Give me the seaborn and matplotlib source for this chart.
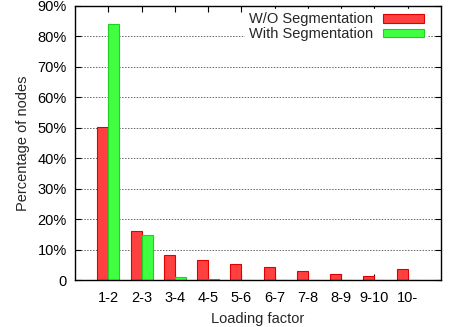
import matplotlib
matplotlib.use("Agg")
import matplotlib.pyplot as plt
import seaborn as sns
import pandas as pd
from matplotlib.ticker import FuncFormatter, MultipleLocator

categories = ["1-2", "2-3", "3-4", "4-5", "5-6", "6-7", "7-8", "8-9", "9-10", "10-"]
wo_seg = [50.4, 16.1, 8.2, 6.7, 5.2, 4.3, 2.8, 1.9, 1.2, 3.5]
with_seg = [84.0, 14.8, 1.1, 0.2, 0.1, 0.0, 0.0, 0.0, 0.0, 0.0]
series_names = ["W/O Segmentation", "With Segmentation"]

df = pd.DataFrame({
    "cat": categories * 2,
    "val": wo_seg + with_seg,
    "series": [series_names[0]] * len(categories) + [series_names[1]] * len(categories),
})

sns.set_theme(style="white")
plt.rcParams["font.family"] = ["Liberation Sans", "DejaVu Sans"]
plt.rcParams["font.size"] = 10.5

fig = plt.figure(figsize=(4.53, 3.27), dpi=100)
ax = fig.add_axes([0.1656, 0.1437, 0.8079, 0.838])

palette = {series_names[0]: "#ff4040", series_names[1]: "#40ff40"}
sns.barplot(data=df, x="cat", y="val", hue="series", order=categories,
            hue_order=series_names, palette=palette, width=0.66,
            saturation=1, ax=ax, zorder=3, linewidth=0.8)

edge_cols = ["#e00000", "#20d020"]
for cont, ec in zip(ax.containers, edge_cols):
    for p in cont.patches:
        p.set_edgecolor(ec)

ax.set_xlim(-1, 10)
ax.set_ylim(0, 90)
ax.yaxis.set_major_locator(MultipleLocator(10))
ax.yaxis.set_major_formatter(FuncFormatter(lambda v, _: "0" if v == 0 else f"{int(round(v))}%"))
ax.grid(axis="y", color="#666666", linestyle=(0, (1.5, 1.5)), linewidth=0.7, zorder=0)
ax.set_axisbelow(True)

for s in ax.spines.values():
    s.set_color("black")
    s.set_linewidth(1.0)
    s.set_visible(True)
    s.set_zorder(6)

ax.tick_params(axis="both", which="both", direction="in", length=4, width=0.8,
               top=True, right=True, bottom=True, left=True, labelsize=10.5,
               colors="black", pad=6)
ax.tick_params(axis="x", pad=8)

ax.set_xlabel("Loading factor", fontsize=10.5, labelpad=5)
ax.set_ylabel("Percentage of nodes", fontsize=10.5, labelpad=5)

leg = ax.legend(loc="upper right", bbox_to_anchor=(0.963, 0.99), markerfirst=False,
                frameon=True, framealpha=1, facecolor="white", edgecolor="white",
                fontsize=10.5, handlelength=2.8, handleheight=0.55, handletextpad=0.7,
                labelspacing=0.05, borderpad=0.25, borderaxespad=0.0, fancybox=False)
leg.set_zorder(5)
for h, ec in zip(leg.legend_handles, edge_cols):
    h.set_edgecolor(ec)

fig.savefig("out.png", dpi=100)
